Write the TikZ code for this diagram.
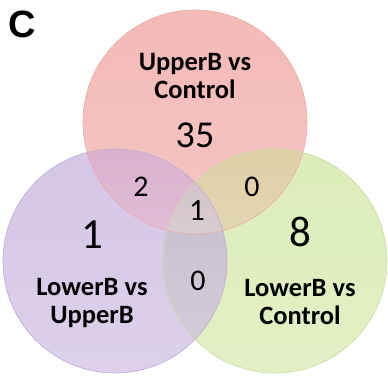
\documentclass[tikz,border=0pt]{standalone}
\usepackage{fontspec}
\usetikzlibrary{fadings}
\setmainfont{Carlito}
\newfontfamily\arialf{Liberation Sans}
\definecolor{cred}{HTML}{F4BAB7}
\definecolor{cpur}{HTML}{D5C7E6}
\definecolor{cgrn}{HTML}{DDEDB9}
\definecolor{crp}{HTML}{D8A9C9}
\definecolor{crg}{HTML}{DCCB9D}
\definecolor{cpg}{HTML}{C2BACB}
\definecolor{call}{HTML}{CBB9C1}
\definecolor{ered}{HTML}{EAAAA6}
\definecolor{epur}{HTML}{BCABD5}
\definecolor{egrn}{HTML}{C8DCA2}
\begin{document}
\begin{tikzpicture}[x=1pt,y=-1pt,
  setlabel/.style={align=center,font=\bfseries\fontsize{26.5}{28}\selectfont,text=black},
  bignum/.style={font=\fontsize{43}{43}\selectfont},
  midnum/.style={font=\fontsize{38}{38}\selectfont},
  smallnum/.style={font=\fontsize{30}{30}\selectfont}]
\useasboundingbox (0,0) rectangle (388,375);
\fill[white] (0,0) rectangle (388,375);
\coordinate (A) at (195,122);
\coordinate (B) at (115,261);
\coordinate (C) at (275,261);
\def\rr{112pt}
\fill[cred] (A) circle[radius=\rr];
\fill[cpur] (B) circle[radius=\rr];
\fill[cgrn] (C) circle[radius=\rr];
\begin{scope}\clip (A) circle[radius=\rr]; \fill[crp] (B) circle[radius=\rr];\end{scope}
\begin{scope}\clip (A) circle[radius=\rr]; \fill[crg] (C) circle[radius=\rr];\end{scope}
\begin{scope}\clip (B) circle[radius=\rr]; \fill[cpg] (C) circle[radius=\rr];\end{scope}
\begin{scope}\clip (A) circle[radius=\rr]; \clip (B) circle[radius=\rr]; \fill[call] (C) circle[radius=\rr];\end{scope}
\foreach \p in {A,B,C}{
  \fill[white,fill opacity=0.18,path fading=north] (\p) circle[radius=\rr];
}
\draw[ered,line width=0.6pt] (A) circle[radius=\rr];
\draw[epur,line width=0.6pt] (B) circle[radius=\rr];
\draw[egrn,line width=0.6pt] (C) circle[radius=\rr];
\node[font=\arialf\bfseries\fontsize{38}{38}\selectfont] (lc) at (22,24) {C};
\node[setlabel] (la) at (195,76) {UpperB vs\\Control};
\node[setlabel] (lb) at (92,303) {LowerB vs\\UpperB};
\node[setlabel] (lg) at (300,302) {LowerB vs\\Control};
\node[midnum] (n35) at (195,135) {35};
\node[smallnum] (n2) at (141,187) {2};
\node[smallnum] (n0a) at (252,187) {0};
\node[font=\fontsize{31}{31}\selectfont] (n1c) at (197,211) {1};
\node[bignum] (n1) at (92,234.5) {1};
\node[bignum] (n8) at (300,231.5) {8};
\node[smallnum] (n0b) at (198,281) {0};
\end{tikzpicture}
\end{document}
